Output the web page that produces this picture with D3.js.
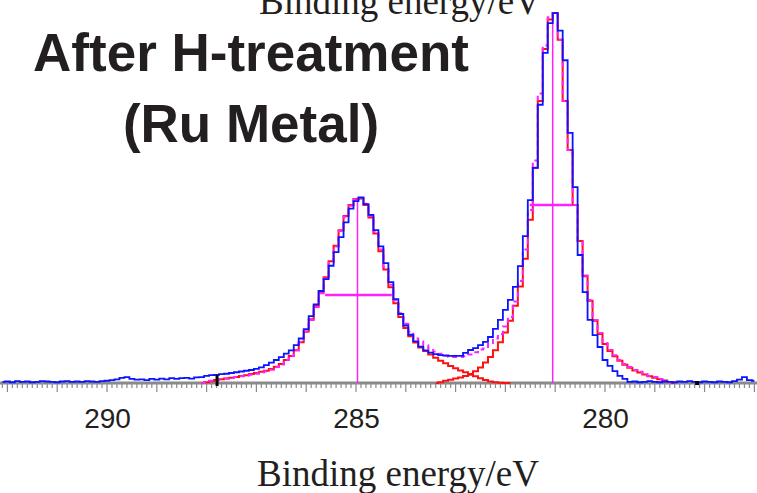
<!DOCTYPE html>
<html>
<head>
<meta charset="utf-8">
<script src="https://cdn.jsdelivr.net/npm/d3@7"></script>
<style>
  body { margin: 0; background: #fff; }
  svg { display: block; }
</style>
</head>
<body>
<div id="chart"></div>
<script>
// spectrum sampling (eV, descending)
const step = 0.1;

// measured data (blue), 292.1 -> 277.0 eV
const dataStart = 292.1;
const dataCounts = [
  0.3,0.4,0.2,0.5,0.3,0.4,0.2,0.3,0.5,0.4,0.3,0.2,0.4,0.5,0.3,0.4,0.3,0.5,0.4,0.3,0.5,
  0.6,0.8,1.0,1.4,1.6,1.1,0.9,1.0,0.8,1.1,0.9,1.2,1.0,1.3,1.1,1.3,1.4,1.2,1.5,
  1.6,1.9,2.1,2.2,2.4,2.5,2.7,2.9,3.1,3.3,3.5,3.8,4.2,4.8,5.5,6.2,7.0,7.9,8.8,10.2,
  12.0,14.5,18.0,21.2,24.8,28.0,31.6,35.3,39.3,43.3,47.0,49.0,50.0,48.2,45.3,41.2,36.8,32.3,27.2,22.6,
  18.6,15.5,13.0,11.2,9.8,8.8,8.2,7.8,7.5,7.4,7.3,7.3,7.3,8.1,8.9,9.4,10.2,11.1,12.4,14.6,
  17.0,19.7,22.4,25.9,31.5,39.6,49.3,58.0,75.0,89.0,97.0,99.7,95.0,87.0,67.4,52.8,34.5,24.5,17.0,12.9,
  9.7,6.2,4.6,3.2,1.9,1.1,0.3,0.4,0.2,0.3,0.5,0.3,0.2,0.4,0.3,0.2,0.4,0.3,0.5,0.3,
  0.2,0.4,0.3,0.2,0.4,0.3,0.2,0.5,0.9,1.6,0.8,0.6
];

// fitted envelope (magenta), 288.1 -> 278.6 eV
const envStart = 288.1;
const envCounts = [
  0,0.3,0.6,0.8,1.0,1.2,1.4,1.6,1.8,2.0,2.2,2.5,2.8,3.1,3.6,4.3,5.0,6.2,7.3,8.8,
  11.0,13.8,17.0,20.5,24.2,28.2,32.5,36.8,41.0,44.8,47.8,49.5,49.8,48.3,45.0,40.8,36.0,31.2,26.5,22.3,
  18.8,16.0,13.8,12.0,11.2,10.2,9.3,8.5,7.9,7.4,7.1,7.0,7.0,7.2,7.7,8.3,9.0,9.3,10.5,12.0,
  13.2,15.2,17.8,22.0,27.5,36.0,46.6,60.0,78.0,91.0,98.6,99.7,92.5,76.0,62.8,48.0,38.5,29.0,22.4,17.0,
  13.5,10.8,8.9,7.5,6.2,5.1,4.3,3.5,3.0,2.4,1.9,1.6,1.1,0.8,0.3,0
];

// component 1 (red), 288.1 -> 281.9 eV
const comp1Start = 288.1;
const comp1Counts = [
  0,0.2,0.5,0.8,1.0,1.2,1.4,1.6,1.9,2.1,2.4,2.7,3.0,3.3,3.8,4.4,5.1,6.2,7.3,8.8,
  11.0,13.9,17.2,20.8,24.5,28.5,32.8,37.0,41.2,45.0,48.0,49.6,49.7,48.0,44.6,40.3,35.5,30.6,25.8,21.5,
  17.8,14.8,12.6,10.9,9.6,8.6,7.7,6.8,6.0,5.3,4.6,4.0,3.4,2.9,2.2,1.8,1.3,0.8,0.4,0.2,
  0.1,0,0
];

// component 2 (red), 283.4 -> 278.6 eV
const comp2Start = 283.4;
const comp2Counts = [
  0,0.2,0.6,0.9,1.2,1.5,1.9,2.4,3.2,4.2,5.5,7.0,8.8,11.0,13.6,16.8,20.8,26.0,33.5,44.0,
  58.0,76.0,90.0,98.0,99.7,92.5,76.0,62.8,48.0,38.3,28.8,22.2,16.8,13.2,10.5,8.6,7.2,6.0,4.9,4.1,
  3.4,2.8,2.3,1.8,1.4,1.0,0.7,0.3,0
];

// peak markers
const peakCenters = [284.97, 281.05];
const peakHeights = [50, 100];
const fwhmLevels = [23.7, 48];
const fwhmLeft = [285.62, 281.51];
const fwhmRight = [284.28, 280.65];

// background range markers
const bgLimits = [287.79, 278.15];

const tickLabels = [290, 285, 280];

const width = 757, height = 493;
const svg = d3.select('#chart').append('svg')
  .attr('width', width).attr('height', height);

svg.append('rect').attr('width', width).attr('height', height).attr('fill', '#fff');

const x = d3.scaleLinear().domain([290, 280]).range([107, 605]);
const y = d3.scaleLinear().domain([0, 100]).range([383, 12]);

const toPoints = (start, counts) => counts.map((v, i) => [start - i * step, v]);

const line = d3.line()
  .x(d => x(d[0]))
  .y(d => y(d[1]))
  .curve(d3.curveStep);

// axis: minor ticks every 0.1 eV, longer every 1 eV
const minor = d3.range(2921, 2769, -1).map(d => d / 10);
const axisG = svg.append('g').attr('transform', 'translate(0,' + y(0) + ')');
axisG.selectAll('line.tk')
  .data(minor)
  .enter().append('line')
  .attr('class', 'tk')
  .attr('x1', d => x(d)).attr('x2', d => x(d))
  .attr('y1', 0)
  .attr('y2', d => Math.abs(d - Math.round(d)) < 1e-6 ? 9 : 5)
  .attr('stroke', '#8a8a8a')
  .attr('stroke-width', 1.2);
axisG.append('line')
  .attr('x1', 0).attr('x2', width)
  .attr('y1', 0).attr('y2', 0)
  .attr('stroke', '#8a8a8a')
  .attr('stroke-width', 3);

const xAxis = d3.axisBottom(x).tickValues(tickLabels).tickSize(0).tickPadding(0);
svg.append('g')
  .attr('transform', 'translate(0,408)')
  .call(xAxis)
  .call(g => g.select('.domain').remove())
  .selectAll('text')
  .attr('dy', '0.71em')
  .attr('fill', '#231f20')
  .style('font-family', 'Liberation Sans, Arial, sans-serif')
  .style('font-size', '28px');

// components
[toPoints(comp1Start, comp1Counts), toPoints(comp2Start, comp2Counts)].forEach(pts => {
  svg.append('path').datum(pts)
    .attr('d', line)
    .attr('fill', 'none')
    .attr('stroke', '#ff1010')
    .attr('stroke-width', 2);
});

// envelope
svg.append('path').datum(toPoints(envStart, envCounts))
  .attr('d', line)
  .attr('fill', 'none')
  .attr('stroke', '#ff22ff')
  .attr('stroke-width', 2)
  .attr('stroke-dasharray', '5,4');

// peak centre lines and FWHM bars
svg.append('g').selectAll('line')
  .data(peakCenters)
  .enter().append('line')
  .attr('x1', d => x(d)).attr('x2', d => x(d))
  .attr('y1', y(0)).attr('y2', (d, i) => y(peakHeights[i]))
  .attr('stroke', '#ff22ff').attr('stroke-width', 1.5);

svg.append('g').selectAll('line')
  .data(fwhmLevels)
  .enter().append('line')
  .attr('x1', (d, i) => x(fwhmLeft[i])).attr('x2', (d, i) => x(fwhmRight[i]))
  .attr('y1', d => y(d)).attr('y2', d => y(d))
  .attr('stroke', '#ff22ff').attr('stroke-width', 2.5);

// measured data
svg.append('path').datum(toPoints(dataStart, dataCounts))
  .attr('d', line)
  .attr('fill', 'none')
  .attr('stroke', '#0a14ff')
  .attr('stroke-width', 1.8);

// background limit markers
svg.append('line')
  .attr('x1', x(bgLimits[0])).attr('x2', x(bgLimits[0]))
  .attr('y1', y(2.2)).attr('y2', y(0) + 3)
  .attr('stroke', '#000').attr('stroke-width', 3);
svg.append('rect')
  .attr('x', x(bgLimits[1]) - 2).attr('y', y(0) - 2)
  .attr('width', 4).attr('height', 4)
  .attr('fill', '#000');

// titles
const labelFont = 'Liberation Serif, Times New Roman, serif';
svg.append('text')
  .attr('x', 398).attr('y', 486)
  .attr('text-anchor', 'middle')
  .attr('fill', '#231f20')
  .style('font-family', labelFont)
  .style('font-size', '37px')
  .text('Binding energy/eV');
svg.append('text')
  .attr('x', 400).attr('y', 14)
  .attr('text-anchor', 'middle')
  .attr('fill', '#231f20')
  .style('font-family', labelFont)
  .style('font-size', '37px')
  .text('Binding energy/eV');

const titleG = svg.append('g')
  .attr('fill', '#231f20')
  .style('font-family', 'Liberation Sans, Arial, sans-serif')
  .style('font-weight', 'bold')
  .style('font-size', '53px')
  .attr('text-anchor', 'middle');
titleG.append('text').attr('x', 251).attr('y', 71).text('After H-treatment');
titleG.append('text').attr('x', 251).attr('y', 142).text('(Ru Metal)');
</script>
</body>
</html>
